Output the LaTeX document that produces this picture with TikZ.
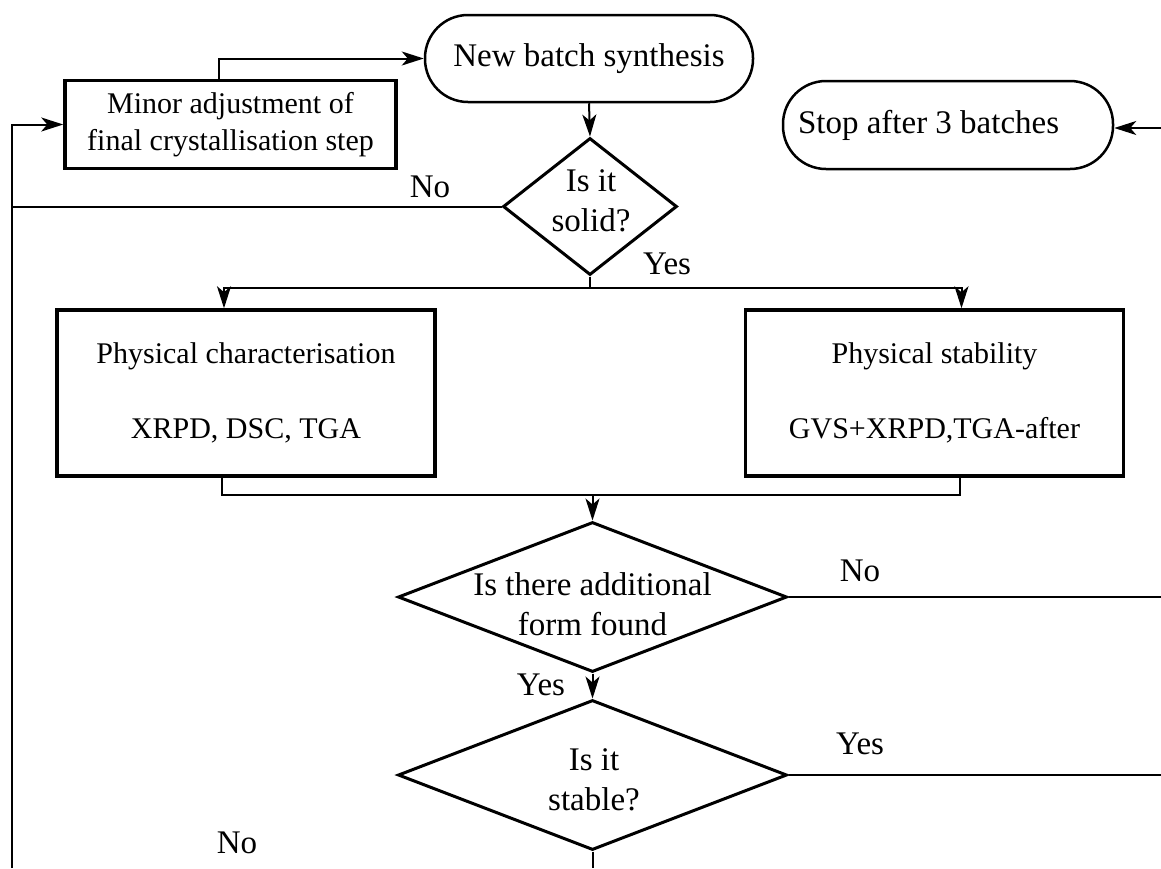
\documentclass[tikz,border=0pt]{standalone}
\usepackage{fontspec}
\setmainfont{Liberation Serif}
\usepackage{tikz}
\usetikzlibrary{shapes.geometric, arrows.meta, positioning}

\newcommand{\procfont}{\fontsize{30}{37}\selectfont}
\newcommand{\termfont}{\fontsize{33}{40}\selectfont}

\begin{document}
\begin{tikzpicture}[
  x=1pt, y=-1pt,
  process/.style={rectangle, draw, line width=3.5pt, font=\procfont,
                  align=center, inner sep=0pt},
  terminal/.style={rectangle, rounded corners=43pt, draw, line width=2.5pt,
                   font=\termfont, inner sep=0pt},
  decision/.style={diamond, draw, line width=3pt, inner sep=0pt,
                   minimum width=389pt, minimum height=150pt},
  qtext/.style={font=\termfont, align=center, inner sep=0pt},
  lbl/.style={font=\termfont, inner sep=0pt},
  flow/.style={line width=2pt},
  arrow/.style={flow, -{Stealth[length=22pt, width=14pt, inset=6pt]}},
]
  \useasboundingbox (0,0) rectangle (1161,868);

  % Start / stop
  \node[terminal, minimum width=328pt, minimum height=87pt]
       at (589,58.5) (newbatch) {New batch synthesis};
  \node[terminal, minimum height=88pt, text width=300pt, align=flush left,
        inner xsep=15pt]
       at (948,125) (stop) {Stop after 3 batches};

  % Boxes
  \node[process, minimum width=331pt, minimum height=88pt]
       at (230.5,124.5) (minor) {Minor adjustment of\\final crystallisation step};
  \node[process, minimum width=378pt, minimum height=166pt]
       at (246,393) (charbox) {Physical characterisation\\[38pt]XRPD, DSC, TGA};
  \node[process, minimum width=378pt, minimum height=166pt]
       at (934.5,393) (stabbox) {Physical stability\\[38pt]GVS+XRPD,TGA-after};

  % Decisions
  \node[decision, minimum width=174pt, minimum height=137pt]
       at (590,206.5) (solidq) {};
  \node[qtext] at (591,201) (solidt) {Is it\\solid?};
  \node[decision] at (592.5,597) (formq) {};
  \node[qtext] at (592.5,604) (formt) {Is there additional\\form found};
  \node[decision] at (592.5,775) (stableq) {};
  \node[qtext] at (594,780) (stablet) {Is it\\stable?};

  % Labels
  \node[lbl] at (430,187)  (nosolid)   {No};
  \node[lbl] at (667,264)  (yessolid)  {Yes};
  \node[lbl] at (860,571)  (noform)    {No};
  \node[lbl] at (541,685)  (yesform)   {Yes};
  \node[lbl] at (860,744)  (yesstable) {Yes};
  \node[lbl] at (237,843)  (nostable)  {No};

  % Free ends
  \coordinate (leftbus) at (12,868);
  \coordinate (rightedge) at (1161,0);
  \coordinate (bottomedge) at (0,868);
  \coordinate (stopin) at (1161,128);
  \coordinate (split) at (590,288);
  \coordinate (merge) at (592.5,495);

  % Connectors
  \draw[arrow] ([xshift=-11.5pt]minor.north) |- (newbatch.west);
  \draw[arrow] (newbatch.south) -- (solidq.north);
  \draw[arrow] (leftbus) |- (minor.west);
  \draw[flow] (solidq.west) -- (solidq.west -| leftbus);
  \draw[flow] (solidq.south) -- (split);
  \draw[arrow] (split) -| ([xshift=-22pt]charbox.north);
  \draw[arrow] (split) -| ([xshift=27pt]stabbox.north);
  \draw[flow] ([xshift=-24pt]charbox.south) |- (merge)
              -| ([xshift=25pt]stabbox.south);
  \draw[arrow] (merge) -- (formq.north);
  \draw[flow] (formq.east) -- (formq.east -| rightedge);
  \draw[arrow] (formq.south) -- (stableq.north);
  \draw[flow] (stableq.east) -- (stableq.east -| rightedge);
  \draw[flow] (stableq.south) -- (stableq.south |- bottomedge);
  \draw[arrow] (stopin) -- (stopin -| stop.east);
\end{tikzpicture}
\end{document}
